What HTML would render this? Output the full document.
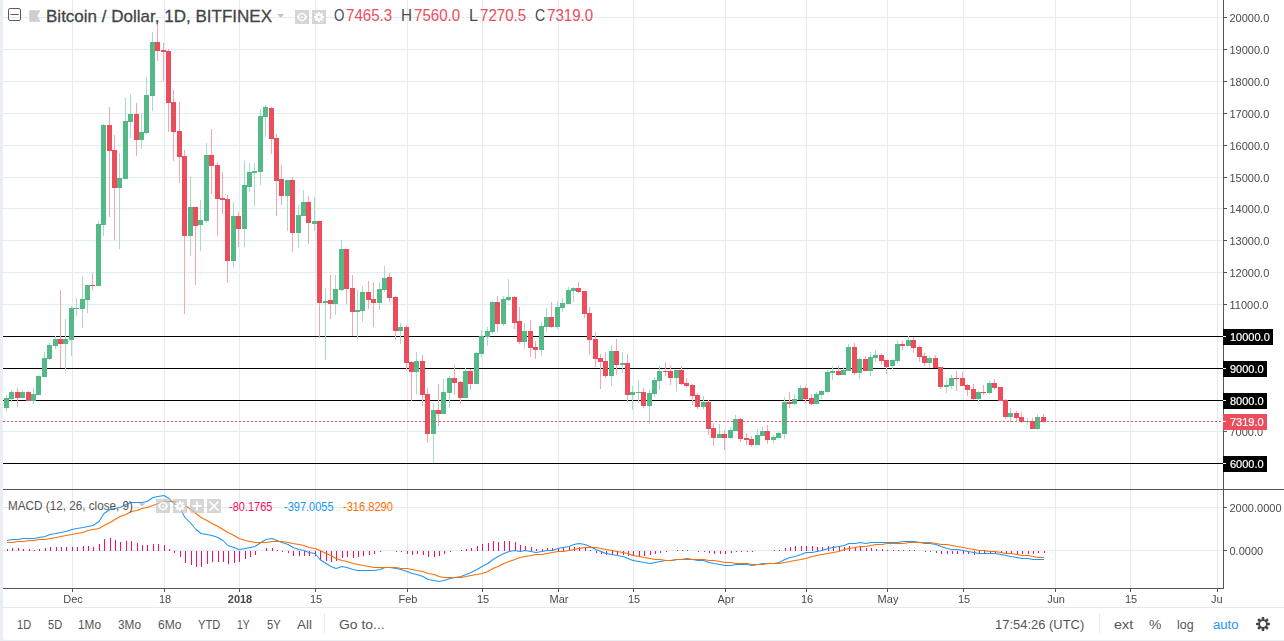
<!DOCTYPE html><html><head><meta charset="utf-8"><title>chart</title><style>
html,body{margin:0;padding:0}
body{width:1284px;height:641px;overflow:hidden;background:#e9eef2;position:relative;font-family:"Liberation Sans",sans-serif}
#chart{position:absolute;left:3px;top:0;width:1281px;height:640px;background:#fff;border-radius:0 0 0 3px}
.f{position:absolute;white-space:nowrap;line-height:1;transform-origin:0 0}
.pl,.bx,.dl{will-change:transform}
.pl{position:absolute;left:1224px;font-size:11px;color:#4a4a4a;line-height:1;padding-left:5.5px}
.pl:before{content:"";position:absolute;left:0;top:4px;width:3px;height:1px;background:#555}
.bx{position:absolute;left:1223px;height:16px;color:#fff;-webkit-text-stroke:0.2px #fff;font-size:11px;line-height:16px;padding-left:7px;box-sizing:border-box}
.bx:before{content:"";position:absolute;left:0;top:7px;width:3px;height:1px;background:#fff}
.dl{position:absolute;top:594px;font-size:11px;color:#4a4a4a;line-height:1;transform:translateX(-50%);white-space:nowrap}
.ib{position:absolute;width:14px;height:14px;background:rgba(0,0,0,0.15)}
</style></head><body>
<div id="chart"></div>
<svg width="1284" height="641" viewBox="0 0 1284 641" style="position:absolute;left:0;top:0" shape-rendering="crispEdges">
<rect x="3" y="17" width="1220" height="1" fill="#e1ecf2"/>
<rect x="3" y="49" width="1220" height="1" fill="#e1ecf2"/>
<rect x="3" y="81" width="1220" height="1" fill="#e1ecf2"/>
<rect x="3" y="113" width="1220" height="1" fill="#e1ecf2"/>
<rect x="3" y="145" width="1220" height="1" fill="#e1ecf2"/>
<rect x="3" y="177" width="1220" height="1" fill="#e1ecf2"/>
<rect x="3" y="208" width="1220" height="1" fill="#e1ecf2"/>
<rect x="3" y="240" width="1220" height="1" fill="#e1ecf2"/>
<rect x="3" y="272" width="1220" height="1" fill="#e1ecf2"/>
<rect x="3" y="304" width="1220" height="1" fill="#e1ecf2"/>
<rect x="3" y="336" width="1220" height="1" fill="#e1ecf2"/>
<rect x="3" y="368" width="1220" height="1" fill="#e1ecf2"/>
<rect x="3" y="400" width="1220" height="1" fill="#e1ecf2"/>
<rect x="3" y="431" width="1220" height="1" fill="#e1ecf2"/>
<rect x="3" y="463" width="1220" height="1" fill="#e1ecf2"/>
<rect x="3" y="507" width="1220" height="1" fill="#e1ecf2"/>
<rect x="3" y="550" width="1220" height="1" fill="#e1ecf2"/>
<rect x="72" y="0" width="1" height="588" fill="#e1ecf2"/>
<rect x="72" y="588" width="1" height="4" fill="#555"/>
<rect x="164" y="0" width="1" height="588" fill="#e1ecf2"/>
<rect x="164" y="588" width="1" height="4" fill="#555"/>
<rect x="239" y="0" width="1" height="588" fill="#e1ecf2"/>
<rect x="239" y="588" width="1" height="4" fill="#555"/>
<rect x="315" y="0" width="1" height="588" fill="#e1ecf2"/>
<rect x="315" y="588" width="1" height="4" fill="#555"/>
<rect x="407" y="0" width="1" height="588" fill="#e1ecf2"/>
<rect x="407" y="588" width="1" height="4" fill="#555"/>
<rect x="482" y="0" width="1" height="588" fill="#e1ecf2"/>
<rect x="482" y="588" width="1" height="4" fill="#555"/>
<rect x="558" y="0" width="1" height="588" fill="#e1ecf2"/>
<rect x="558" y="588" width="1" height="4" fill="#555"/>
<rect x="633" y="0" width="1" height="588" fill="#e1ecf2"/>
<rect x="633" y="588" width="1" height="4" fill="#555"/>
<rect x="725" y="0" width="1" height="588" fill="#e1ecf2"/>
<rect x="725" y="588" width="1" height="4" fill="#555"/>
<rect x="806" y="0" width="1" height="588" fill="#e1ecf2"/>
<rect x="806" y="588" width="1" height="4" fill="#555"/>
<rect x="887" y="0" width="1" height="588" fill="#e1ecf2"/>
<rect x="887" y="588" width="1" height="4" fill="#555"/>
<rect x="963" y="0" width="1" height="588" fill="#e1ecf2"/>
<rect x="963" y="588" width="1" height="4" fill="#555"/>
<rect x="1055" y="0" width="1" height="588" fill="#e1ecf2"/>
<rect x="1055" y="588" width="1" height="4" fill="#555"/>
<rect x="1130" y="0" width="1" height="588" fill="#e1ecf2"/>
<rect x="1130" y="588" width="1" height="4" fill="#555"/>
<rect x="1217" y="0" width="1" height="588" fill="#e1ecf2"/>
<rect x="1217" y="588" width="1" height="4" fill="#555"/>
<rect x="3" y="336" width="1220" height="1" fill="#000"/>
<rect x="3" y="368" width="1220" height="1" fill="#000"/>
<rect x="3" y="400" width="1220" height="1" fill="#000"/>
<rect x="3" y="463" width="1220" height="1" fill="#000"/>
<rect x="6" y="395" width="1" height="3" fill="#a9dcc3"/>
<rect x="6" y="408" width="1" height="3" fill="#a9dcc3"/>
<rect x="4" y="398" width="5" height="10" fill="#53b987"/>
<rect x="11" y="390" width="1" height="2" fill="#a9dcc3"/>
<rect x="11" y="399" width="1" height="3" fill="#a9dcc3"/>
<rect x="9" y="392" width="5" height="7" fill="#53b987"/>
<rect x="17" y="388" width="1" height="4" fill="#f5a6ae"/>
<rect x="17" y="398" width="1" height="9" fill="#f5a6ae"/>
<rect x="15" y="392" width="5" height="6" fill="#eb4d5c"/>
<rect x="22" y="390" width="1" height="2" fill="#a9dcc3"/>
<rect x="20" y="392" width="5" height="6" fill="#53b987"/>
<rect x="28" y="391" width="1" height="1" fill="#f5a6ae"/>
<rect x="26" y="392" width="5" height="9" fill="#eb4d5c"/>
<rect x="33" y="388" width="1" height="6" fill="#a9dcc3"/>
<rect x="33" y="401" width="1" height="3" fill="#a9dcc3"/>
<rect x="31" y="394" width="5" height="7" fill="#53b987"/>
<rect x="38" y="375" width="1" height="1" fill="#a9dcc3"/>
<rect x="36" y="376" width="5" height="19" fill="#53b987"/>
<rect x="44" y="352" width="1" height="6" fill="#a9dcc3"/>
<rect x="42" y="358" width="5" height="19" fill="#53b987"/>
<rect x="49" y="343" width="1" height="2" fill="#a9dcc3"/>
<rect x="49" y="359" width="1" height="1" fill="#a9dcc3"/>
<rect x="47" y="345" width="5" height="14" fill="#53b987"/>
<rect x="55" y="336" width="1" height="3" fill="#a9dcc3"/>
<rect x="55" y="346" width="1" height="3" fill="#a9dcc3"/>
<rect x="53" y="339" width="5" height="7" fill="#53b987"/>
<rect x="60" y="290" width="1" height="49" fill="#f5a6ae"/>
<rect x="60" y="344" width="1" height="24" fill="#f5a6ae"/>
<rect x="58" y="339" width="5" height="5" fill="#eb4d5c"/>
<rect x="65" y="319" width="1" height="20" fill="#a9dcc3"/>
<rect x="65" y="344" width="1" height="29" fill="#a9dcc3"/>
<rect x="63" y="339" width="5" height="5" fill="#53b987"/>
<rect x="71" y="306" width="1" height="2" fill="#a9dcc3"/>
<rect x="71" y="340" width="1" height="16" fill="#a9dcc3"/>
<rect x="69" y="308" width="5" height="32" fill="#53b987"/>
<rect x="76" y="298" width="1" height="10" fill="#a9dcc3"/>
<rect x="76" y="309" width="1" height="7" fill="#a9dcc3"/>
<rect x="74" y="308" width="5" height="1" fill="#53b987"/>
<rect x="82" y="276" width="1" height="23" fill="#a9dcc3"/>
<rect x="82" y="309" width="1" height="19" fill="#a9dcc3"/>
<rect x="80" y="299" width="5" height="10" fill="#53b987"/>
<rect x="87" y="300" width="1" height="13" fill="#a9dcc3"/>
<rect x="85" y="285" width="5" height="15" fill="#53b987"/>
<rect x="92" y="273" width="1" height="12" fill="#f5a6ae"/>
<rect x="92" y="286" width="1" height="5" fill="#f5a6ae"/>
<rect x="90" y="285" width="5" height="1" fill="#eb4d5c"/>
<rect x="98" y="221" width="1" height="3" fill="#a9dcc3"/>
<rect x="96" y="224" width="5" height="62" fill="#53b987"/>
<rect x="103" y="124" width="1" height="1" fill="#a9dcc3"/>
<rect x="103" y="225" width="1" height="11" fill="#a9dcc3"/>
<rect x="101" y="125" width="5" height="100" fill="#53b987"/>
<rect x="109" y="107" width="1" height="18" fill="#f5a6ae"/>
<rect x="109" y="151" width="1" height="66" fill="#f5a6ae"/>
<rect x="107" y="125" width="5" height="26" fill="#eb4d5c"/>
<rect x="114" y="135" width="1" height="15" fill="#f5a6ae"/>
<rect x="114" y="188" width="1" height="52" fill="#f5a6ae"/>
<rect x="112" y="150" width="5" height="38" fill="#eb4d5c"/>
<rect x="119" y="153" width="1" height="25" fill="#a9dcc3"/>
<rect x="119" y="188" width="1" height="61" fill="#a9dcc3"/>
<rect x="117" y="178" width="5" height="10" fill="#53b987"/>
<rect x="125" y="98" width="1" height="23" fill="#a9dcc3"/>
<rect x="123" y="121" width="5" height="58" fill="#53b987"/>
<rect x="130" y="94" width="1" height="20" fill="#a9dcc3"/>
<rect x="130" y="122" width="1" height="16" fill="#a9dcc3"/>
<rect x="128" y="114" width="5" height="8" fill="#53b987"/>
<rect x="136" y="103" width="1" height="11" fill="#f5a6ae"/>
<rect x="136" y="140" width="1" height="16" fill="#f5a6ae"/>
<rect x="134" y="114" width="5" height="26" fill="#eb4d5c"/>
<rect x="141" y="113" width="1" height="19" fill="#a9dcc3"/>
<rect x="141" y="140" width="1" height="9" fill="#a9dcc3"/>
<rect x="139" y="132" width="5" height="8" fill="#53b987"/>
<rect x="146" y="77" width="1" height="18" fill="#a9dcc3"/>
<rect x="146" y="133" width="1" height="1" fill="#a9dcc3"/>
<rect x="144" y="95" width="5" height="38" fill="#53b987"/>
<rect x="152" y="32" width="1" height="10" fill="#a9dcc3"/>
<rect x="152" y="96" width="1" height="15" fill="#a9dcc3"/>
<rect x="150" y="42" width="5" height="54" fill="#53b987"/>
<rect x="157" y="21" width="1" height="21" fill="#f5a6ae"/>
<rect x="157" y="51" width="1" height="10" fill="#f5a6ae"/>
<rect x="155" y="42" width="5" height="9" fill="#eb4d5c"/>
<rect x="163" y="43" width="1" height="7" fill="#f5a6ae"/>
<rect x="163" y="52" width="1" height="29" fill="#f5a6ae"/>
<rect x="161" y="50" width="5" height="2" fill="#eb4d5c"/>
<rect x="168" y="49" width="1" height="2" fill="#f5a6ae"/>
<rect x="168" y="103" width="1" height="29" fill="#f5a6ae"/>
<rect x="166" y="51" width="5" height="52" fill="#eb4d5c"/>
<rect x="173" y="90" width="1" height="12" fill="#f5a6ae"/>
<rect x="173" y="132" width="1" height="29" fill="#f5a6ae"/>
<rect x="171" y="102" width="5" height="30" fill="#eb4d5c"/>
<rect x="179" y="102" width="1" height="29" fill="#f5a6ae"/>
<rect x="179" y="157" width="1" height="26" fill="#f5a6ae"/>
<rect x="177" y="131" width="5" height="26" fill="#eb4d5c"/>
<rect x="184" y="150" width="1" height="6" fill="#f5a6ae"/>
<rect x="184" y="236" width="1" height="78" fill="#f5a6ae"/>
<rect x="182" y="156" width="5" height="80" fill="#eb4d5c"/>
<rect x="190" y="177" width="1" height="30" fill="#a9dcc3"/>
<rect x="190" y="236" width="1" height="20" fill="#a9dcc3"/>
<rect x="188" y="207" width="5" height="29" fill="#53b987"/>
<rect x="195" y="226" width="1" height="59" fill="#f5a6ae"/>
<rect x="193" y="207" width="5" height="19" fill="#eb4d5c"/>
<rect x="200" y="200" width="1" height="20" fill="#a9dcc3"/>
<rect x="200" y="225" width="1" height="26" fill="#a9dcc3"/>
<rect x="198" y="220" width="5" height="5" fill="#53b987"/>
<rect x="206" y="143" width="1" height="12" fill="#a9dcc3"/>
<rect x="206" y="221" width="1" height="2" fill="#a9dcc3"/>
<rect x="204" y="155" width="5" height="66" fill="#53b987"/>
<rect x="211" y="129" width="1" height="26" fill="#f5a6ae"/>
<rect x="211" y="166" width="1" height="28" fill="#f5a6ae"/>
<rect x="209" y="155" width="5" height="11" fill="#eb4d5c"/>
<rect x="217" y="162" width="1" height="3" fill="#f5a6ae"/>
<rect x="217" y="199" width="1" height="37" fill="#f5a6ae"/>
<rect x="215" y="165" width="5" height="34" fill="#eb4d5c"/>
<rect x="222" y="172" width="1" height="26" fill="#f5a6ae"/>
<rect x="222" y="200" width="1" height="14" fill="#f5a6ae"/>
<rect x="220" y="198" width="5" height="2" fill="#eb4d5c"/>
<rect x="227" y="195" width="1" height="4" fill="#f5a6ae"/>
<rect x="227" y="261" width="1" height="22" fill="#f5a6ae"/>
<rect x="225" y="199" width="5" height="62" fill="#eb4d5c"/>
<rect x="233" y="202" width="1" height="14" fill="#a9dcc3"/>
<rect x="233" y="261" width="1" height="6" fill="#a9dcc3"/>
<rect x="231" y="216" width="5" height="45" fill="#53b987"/>
<rect x="238" y="212" width="1" height="4" fill="#f5a6ae"/>
<rect x="238" y="229" width="1" height="18" fill="#f5a6ae"/>
<rect x="236" y="216" width="5" height="13" fill="#eb4d5c"/>
<rect x="244" y="161" width="1" height="24" fill="#a9dcc3"/>
<rect x="244" y="229" width="1" height="18" fill="#a9dcc3"/>
<rect x="242" y="185" width="5" height="44" fill="#53b987"/>
<rect x="249" y="163" width="1" height="9" fill="#a9dcc3"/>
<rect x="249" y="187" width="1" height="5" fill="#a9dcc3"/>
<rect x="247" y="172" width="5" height="15" fill="#53b987"/>
<rect x="254" y="163" width="1" height="8" fill="#a9dcc3"/>
<rect x="254" y="173" width="1" height="33" fill="#a9dcc3"/>
<rect x="252" y="171" width="5" height="2" fill="#53b987"/>
<rect x="260" y="109" width="1" height="7" fill="#a9dcc3"/>
<rect x="260" y="172" width="1" height="13" fill="#a9dcc3"/>
<rect x="258" y="116" width="5" height="56" fill="#53b987"/>
<rect x="265" y="105" width="1" height="2" fill="#a9dcc3"/>
<rect x="265" y="117" width="1" height="20" fill="#a9dcc3"/>
<rect x="263" y="107" width="5" height="10" fill="#53b987"/>
<rect x="271" y="107" width="1" height="1" fill="#f5a6ae"/>
<rect x="271" y="139" width="1" height="15" fill="#f5a6ae"/>
<rect x="269" y="108" width="5" height="31" fill="#eb4d5c"/>
<rect x="276" y="134" width="1" height="4" fill="#f5a6ae"/>
<rect x="276" y="181" width="1" height="35" fill="#f5a6ae"/>
<rect x="274" y="138" width="5" height="43" fill="#eb4d5c"/>
<rect x="281" y="165" width="1" height="14" fill="#f5a6ae"/>
<rect x="281" y="196" width="1" height="9" fill="#f5a6ae"/>
<rect x="279" y="179" width="5" height="17" fill="#eb4d5c"/>
<rect x="287" y="196" width="1" height="35" fill="#a9dcc3"/>
<rect x="285" y="180" width="5" height="16" fill="#53b987"/>
<rect x="292" y="177" width="1" height="3" fill="#f5a6ae"/>
<rect x="292" y="233" width="1" height="19" fill="#f5a6ae"/>
<rect x="290" y="180" width="5" height="53" fill="#eb4d5c"/>
<rect x="298" y="205" width="1" height="10" fill="#a9dcc3"/>
<rect x="298" y="233" width="1" height="15" fill="#a9dcc3"/>
<rect x="296" y="215" width="5" height="18" fill="#53b987"/>
<rect x="303" y="190" width="1" height="12" fill="#a9dcc3"/>
<rect x="301" y="202" width="5" height="14" fill="#53b987"/>
<rect x="308" y="196" width="1" height="6" fill="#f5a6ae"/>
<rect x="308" y="223" width="1" height="21" fill="#f5a6ae"/>
<rect x="306" y="202" width="5" height="21" fill="#eb4d5c"/>
<rect x="314" y="197" width="1" height="24" fill="#a9dcc3"/>
<rect x="314" y="224" width="1" height="7" fill="#a9dcc3"/>
<rect x="312" y="221" width="5" height="3" fill="#53b987"/>
<rect x="319" y="303" width="1" height="35" fill="#f5a6ae"/>
<rect x="317" y="221" width="5" height="82" fill="#eb4d5c"/>
<rect x="325" y="288" width="1" height="13" fill="#a9dcc3"/>
<rect x="325" y="303" width="1" height="57" fill="#a9dcc3"/>
<rect x="323" y="301" width="5" height="2" fill="#53b987"/>
<rect x="330" y="275" width="1" height="25" fill="#f5a6ae"/>
<rect x="330" y="304" width="1" height="15" fill="#f5a6ae"/>
<rect x="328" y="300" width="5" height="4" fill="#eb4d5c"/>
<rect x="335" y="275" width="1" height="14" fill="#a9dcc3"/>
<rect x="335" y="304" width="1" height="11" fill="#a9dcc3"/>
<rect x="333" y="289" width="5" height="15" fill="#53b987"/>
<rect x="341" y="240" width="1" height="9" fill="#a9dcc3"/>
<rect x="341" y="290" width="1" height="1" fill="#a9dcc3"/>
<rect x="339" y="249" width="5" height="41" fill="#53b987"/>
<rect x="346" y="289" width="1" height="15" fill="#f5a6ae"/>
<rect x="344" y="249" width="5" height="40" fill="#eb4d5c"/>
<rect x="352" y="275" width="1" height="13" fill="#f5a6ae"/>
<rect x="352" y="312" width="1" height="24" fill="#f5a6ae"/>
<rect x="350" y="288" width="5" height="24" fill="#eb4d5c"/>
<rect x="357" y="290" width="1" height="20" fill="#a9dcc3"/>
<rect x="357" y="312" width="1" height="27" fill="#a9dcc3"/>
<rect x="355" y="310" width="5" height="2" fill="#53b987"/>
<rect x="362" y="286" width="1" height="6" fill="#a9dcc3"/>
<rect x="362" y="311" width="1" height="11" fill="#a9dcc3"/>
<rect x="360" y="292" width="5" height="19" fill="#53b987"/>
<rect x="368" y="281" width="1" height="11" fill="#f5a6ae"/>
<rect x="368" y="300" width="1" height="9" fill="#f5a6ae"/>
<rect x="366" y="292" width="5" height="8" fill="#eb4d5c"/>
<rect x="373" y="282" width="1" height="17" fill="#f5a6ae"/>
<rect x="373" y="303" width="1" height="24" fill="#f5a6ae"/>
<rect x="371" y="299" width="5" height="4" fill="#eb4d5c"/>
<rect x="379" y="282" width="1" height="7" fill="#a9dcc3"/>
<rect x="379" y="303" width="1" height="7" fill="#a9dcc3"/>
<rect x="377" y="289" width="5" height="14" fill="#53b987"/>
<rect x="384" y="266" width="1" height="12" fill="#a9dcc3"/>
<rect x="384" y="290" width="1" height="2" fill="#a9dcc3"/>
<rect x="382" y="278" width="5" height="12" fill="#53b987"/>
<rect x="389" y="273" width="1" height="4" fill="#f5a6ae"/>
<rect x="389" y="298" width="1" height="4" fill="#f5a6ae"/>
<rect x="387" y="277" width="5" height="21" fill="#eb4d5c"/>
<rect x="395" y="296" width="1" height="1" fill="#f5a6ae"/>
<rect x="395" y="331" width="1" height="9" fill="#f5a6ae"/>
<rect x="393" y="297" width="5" height="34" fill="#eb4d5c"/>
<rect x="400" y="323" width="1" height="4" fill="#a9dcc3"/>
<rect x="400" y="331" width="1" height="13" fill="#a9dcc3"/>
<rect x="398" y="327" width="5" height="4" fill="#53b987"/>
<rect x="406" y="325" width="1" height="2" fill="#f5a6ae"/>
<rect x="406" y="363" width="1" height="7" fill="#f5a6ae"/>
<rect x="404" y="327" width="5" height="36" fill="#eb4d5c"/>
<rect x="411" y="361" width="1" height="1" fill="#f5a6ae"/>
<rect x="411" y="372" width="1" height="29" fill="#f5a6ae"/>
<rect x="409" y="362" width="5" height="10" fill="#eb4d5c"/>
<rect x="416" y="352" width="1" height="9" fill="#a9dcc3"/>
<rect x="416" y="372" width="1" height="22" fill="#a9dcc3"/>
<rect x="414" y="361" width="5" height="11" fill="#53b987"/>
<rect x="422" y="355" width="1" height="6" fill="#f5a6ae"/>
<rect x="422" y="395" width="1" height="11" fill="#f5a6ae"/>
<rect x="420" y="361" width="5" height="34" fill="#eb4d5c"/>
<rect x="427" y="388" width="1" height="6" fill="#f5a6ae"/>
<rect x="427" y="434" width="1" height="9" fill="#f5a6ae"/>
<rect x="425" y="394" width="5" height="40" fill="#eb4d5c"/>
<rect x="433" y="403" width="1" height="7" fill="#a9dcc3"/>
<rect x="433" y="434" width="1" height="29" fill="#a9dcc3"/>
<rect x="431" y="410" width="5" height="24" fill="#53b987"/>
<rect x="438" y="384" width="1" height="26" fill="#f5a6ae"/>
<rect x="438" y="414" width="1" height="12" fill="#f5a6ae"/>
<rect x="436" y="410" width="5" height="4" fill="#eb4d5c"/>
<rect x="443" y="379" width="1" height="13" fill="#a9dcc3"/>
<rect x="441" y="392" width="5" height="22" fill="#53b987"/>
<rect x="449" y="376" width="1" height="2" fill="#a9dcc3"/>
<rect x="449" y="393" width="1" height="15" fill="#a9dcc3"/>
<rect x="447" y="378" width="5" height="15" fill="#53b987"/>
<rect x="454" y="365" width="1" height="13" fill="#f5a6ae"/>
<rect x="454" y="383" width="1" height="12" fill="#f5a6ae"/>
<rect x="452" y="378" width="5" height="5" fill="#eb4d5c"/>
<rect x="460" y="381" width="1" height="1" fill="#f5a6ae"/>
<rect x="460" y="398" width="1" height="6" fill="#f5a6ae"/>
<rect x="458" y="382" width="5" height="16" fill="#eb4d5c"/>
<rect x="465" y="368" width="1" height="3" fill="#a9dcc3"/>
<rect x="463" y="371" width="5" height="27" fill="#53b987"/>
<rect x="470" y="369" width="1" height="2" fill="#f5a6ae"/>
<rect x="470" y="384" width="1" height="6" fill="#f5a6ae"/>
<rect x="468" y="371" width="5" height="13" fill="#eb4d5c"/>
<rect x="476" y="352" width="1" height="1" fill="#a9dcc3"/>
<rect x="474" y="353" width="5" height="31" fill="#53b987"/>
<rect x="481" y="330" width="1" height="6" fill="#a9dcc3"/>
<rect x="481" y="354" width="1" height="3" fill="#a9dcc3"/>
<rect x="479" y="336" width="5" height="18" fill="#53b987"/>
<rect x="487" y="327" width="1" height="4" fill="#a9dcc3"/>
<rect x="487" y="337" width="1" height="9" fill="#a9dcc3"/>
<rect x="485" y="331" width="5" height="6" fill="#53b987"/>
<rect x="492" y="301" width="1" height="1" fill="#a9dcc3"/>
<rect x="492" y="332" width="1" height="2" fill="#a9dcc3"/>
<rect x="490" y="302" width="5" height="30" fill="#53b987"/>
<rect x="497" y="296" width="1" height="6" fill="#f5a6ae"/>
<rect x="497" y="324" width="1" height="8" fill="#f5a6ae"/>
<rect x="495" y="302" width="5" height="22" fill="#eb4d5c"/>
<rect x="503" y="296" width="1" height="3" fill="#a9dcc3"/>
<rect x="503" y="324" width="1" height="2" fill="#a9dcc3"/>
<rect x="501" y="299" width="5" height="25" fill="#53b987"/>
<rect x="508" y="279" width="1" height="18" fill="#a9dcc3"/>
<rect x="508" y="300" width="1" height="1" fill="#a9dcc3"/>
<rect x="506" y="297" width="5" height="3" fill="#53b987"/>
<rect x="514" y="296" width="1" height="1" fill="#f5a6ae"/>
<rect x="514" y="323" width="1" height="6" fill="#f5a6ae"/>
<rect x="512" y="297" width="5" height="26" fill="#eb4d5c"/>
<rect x="519" y="307" width="1" height="14" fill="#f5a6ae"/>
<rect x="519" y="342" width="1" height="2" fill="#f5a6ae"/>
<rect x="517" y="321" width="5" height="21" fill="#eb4d5c"/>
<rect x="524" y="323" width="1" height="8" fill="#a9dcc3"/>
<rect x="524" y="342" width="1" height="7" fill="#a9dcc3"/>
<rect x="522" y="331" width="5" height="11" fill="#53b987"/>
<rect x="530" y="320" width="1" height="11" fill="#f5a6ae"/>
<rect x="530" y="348" width="1" height="9" fill="#f5a6ae"/>
<rect x="528" y="331" width="5" height="17" fill="#eb4d5c"/>
<rect x="535" y="341" width="1" height="6" fill="#f5a6ae"/>
<rect x="535" y="350" width="1" height="9" fill="#f5a6ae"/>
<rect x="533" y="347" width="5" height="3" fill="#eb4d5c"/>
<rect x="541" y="322" width="1" height="4" fill="#a9dcc3"/>
<rect x="541" y="350" width="1" height="6" fill="#a9dcc3"/>
<rect x="539" y="326" width="5" height="24" fill="#53b987"/>
<rect x="546" y="308" width="1" height="9" fill="#a9dcc3"/>
<rect x="546" y="327" width="1" height="5" fill="#a9dcc3"/>
<rect x="544" y="317" width="5" height="10" fill="#53b987"/>
<rect x="551" y="302" width="1" height="15" fill="#f5a6ae"/>
<rect x="551" y="327" width="1" height="1" fill="#f5a6ae"/>
<rect x="549" y="317" width="5" height="10" fill="#eb4d5c"/>
<rect x="557" y="301" width="1" height="6" fill="#a9dcc3"/>
<rect x="557" y="327" width="1" height="2" fill="#a9dcc3"/>
<rect x="555" y="307" width="5" height="20" fill="#53b987"/>
<rect x="562" y="298" width="1" height="5" fill="#a9dcc3"/>
<rect x="562" y="308" width="1" height="4" fill="#a9dcc3"/>
<rect x="560" y="303" width="5" height="5" fill="#53b987"/>
<rect x="568" y="287" width="1" height="3" fill="#a9dcc3"/>
<rect x="566" y="290" width="5" height="14" fill="#53b987"/>
<rect x="573" y="287" width="1" height="1" fill="#a9dcc3"/>
<rect x="573" y="291" width="1" height="11" fill="#a9dcc3"/>
<rect x="571" y="288" width="5" height="3" fill="#53b987"/>
<rect x="578" y="282" width="1" height="6" fill="#f5a6ae"/>
<rect x="578" y="292" width="1" height="1" fill="#f5a6ae"/>
<rect x="576" y="288" width="5" height="4" fill="#eb4d5c"/>
<rect x="584" y="314" width="1" height="4" fill="#f5a6ae"/>
<rect x="582" y="291" width="5" height="23" fill="#eb4d5c"/>
<rect x="589" y="307" width="1" height="6" fill="#f5a6ae"/>
<rect x="589" y="340" width="1" height="15" fill="#f5a6ae"/>
<rect x="587" y="313" width="5" height="27" fill="#eb4d5c"/>
<rect x="595" y="332" width="1" height="7" fill="#f5a6ae"/>
<rect x="595" y="359" width="1" height="8" fill="#f5a6ae"/>
<rect x="593" y="339" width="5" height="20" fill="#eb4d5c"/>
<rect x="600" y="354" width="1" height="4" fill="#f5a6ae"/>
<rect x="600" y="362" width="1" height="27" fill="#f5a6ae"/>
<rect x="598" y="358" width="5" height="4" fill="#eb4d5c"/>
<rect x="605" y="352" width="1" height="9" fill="#f5a6ae"/>
<rect x="605" y="376" width="1" height="2" fill="#f5a6ae"/>
<rect x="603" y="361" width="5" height="15" fill="#eb4d5c"/>
<rect x="611" y="345" width="1" height="6" fill="#a9dcc3"/>
<rect x="611" y="376" width="1" height="10" fill="#a9dcc3"/>
<rect x="609" y="351" width="5" height="25" fill="#53b987"/>
<rect x="616" y="339" width="1" height="12" fill="#f5a6ae"/>
<rect x="616" y="365" width="1" height="10" fill="#f5a6ae"/>
<rect x="614" y="351" width="5" height="14" fill="#eb4d5c"/>
<rect x="622" y="352" width="1" height="11" fill="#a9dcc3"/>
<rect x="622" y="365" width="1" height="8" fill="#a9dcc3"/>
<rect x="620" y="363" width="5" height="2" fill="#53b987"/>
<rect x="627" y="354" width="1" height="9" fill="#f5a6ae"/>
<rect x="627" y="395" width="1" height="7" fill="#f5a6ae"/>
<rect x="625" y="363" width="5" height="32" fill="#eb4d5c"/>
<rect x="632" y="386" width="1" height="6" fill="#a9dcc3"/>
<rect x="632" y="395" width="1" height="15" fill="#a9dcc3"/>
<rect x="630" y="392" width="5" height="3" fill="#53b987"/>
<rect x="638" y="380" width="1" height="12" fill="#a9dcc3"/>
<rect x="638" y="393" width="1" height="10" fill="#a9dcc3"/>
<rect x="636" y="392" width="5" height="1" fill="#53b987"/>
<rect x="643" y="388" width="1" height="4" fill="#f5a6ae"/>
<rect x="643" y="406" width="1" height="2" fill="#f5a6ae"/>
<rect x="641" y="392" width="5" height="14" fill="#eb4d5c"/>
<rect x="649" y="390" width="1" height="3" fill="#a9dcc3"/>
<rect x="649" y="406" width="1" height="18" fill="#a9dcc3"/>
<rect x="647" y="393" width="5" height="13" fill="#53b987"/>
<rect x="654" y="377" width="1" height="3" fill="#a9dcc3"/>
<rect x="654" y="394" width="1" height="3" fill="#a9dcc3"/>
<rect x="652" y="380" width="5" height="14" fill="#53b987"/>
<rect x="659" y="366" width="1" height="5" fill="#a9dcc3"/>
<rect x="659" y="381" width="1" height="9" fill="#a9dcc3"/>
<rect x="657" y="371" width="5" height="10" fill="#53b987"/>
<rect x="665" y="362" width="1" height="9" fill="#f5a6ae"/>
<rect x="665" y="372" width="1" height="4" fill="#f5a6ae"/>
<rect x="663" y="371" width="5" height="1" fill="#eb4d5c"/>
<rect x="670" y="365" width="1" height="6" fill="#f5a6ae"/>
<rect x="670" y="378" width="1" height="7" fill="#f5a6ae"/>
<rect x="668" y="371" width="5" height="7" fill="#eb4d5c"/>
<rect x="676" y="378" width="1" height="13" fill="#a9dcc3"/>
<rect x="674" y="370" width="5" height="8" fill="#53b987"/>
<rect x="681" y="366" width="1" height="4" fill="#f5a6ae"/>
<rect x="681" y="384" width="1" height="1" fill="#f5a6ae"/>
<rect x="679" y="370" width="5" height="14" fill="#eb4d5c"/>
<rect x="686" y="378" width="1" height="5" fill="#f5a6ae"/>
<rect x="686" y="386" width="1" height="2" fill="#f5a6ae"/>
<rect x="684" y="383" width="5" height="3" fill="#eb4d5c"/>
<rect x="692" y="384" width="1" height="1" fill="#f5a6ae"/>
<rect x="692" y="396" width="1" height="9" fill="#f5a6ae"/>
<rect x="690" y="385" width="5" height="11" fill="#eb4d5c"/>
<rect x="697" y="393" width="1" height="2" fill="#f5a6ae"/>
<rect x="697" y="407" width="1" height="2" fill="#f5a6ae"/>
<rect x="695" y="395" width="5" height="12" fill="#eb4d5c"/>
<rect x="703" y="396" width="1" height="6" fill="#a9dcc3"/>
<rect x="703" y="407" width="1" height="2" fill="#a9dcc3"/>
<rect x="701" y="402" width="5" height="5" fill="#53b987"/>
<rect x="708" y="400" width="1" height="2" fill="#f5a6ae"/>
<rect x="708" y="429" width="1" height="6" fill="#f5a6ae"/>
<rect x="706" y="402" width="5" height="27" fill="#eb4d5c"/>
<rect x="713" y="423" width="1" height="5" fill="#f5a6ae"/>
<rect x="713" y="438" width="1" height="8" fill="#f5a6ae"/>
<rect x="711" y="428" width="5" height="10" fill="#eb4d5c"/>
<rect x="719" y="424" width="1" height="10" fill="#a9dcc3"/>
<rect x="717" y="434" width="5" height="4" fill="#53b987"/>
<rect x="724" y="430" width="1" height="4" fill="#f5a6ae"/>
<rect x="724" y="438" width="1" height="12" fill="#f5a6ae"/>
<rect x="722" y="434" width="5" height="4" fill="#eb4d5c"/>
<rect x="730" y="427" width="1" height="3" fill="#a9dcc3"/>
<rect x="730" y="438" width="1" height="1" fill="#a9dcc3"/>
<rect x="728" y="430" width="5" height="8" fill="#53b987"/>
<rect x="735" y="415" width="1" height="4" fill="#a9dcc3"/>
<rect x="733" y="419" width="5" height="12" fill="#53b987"/>
<rect x="740" y="418" width="1" height="1" fill="#f5a6ae"/>
<rect x="740" y="439" width="1" height="3" fill="#f5a6ae"/>
<rect x="738" y="419" width="5" height="20" fill="#eb4d5c"/>
<rect x="746" y="433" width="1" height="5" fill="#f5a6ae"/>
<rect x="746" y="440" width="1" height="5" fill="#f5a6ae"/>
<rect x="744" y="438" width="5" height="2" fill="#eb4d5c"/>
<rect x="751" y="436" width="1" height="3" fill="#f5a6ae"/>
<rect x="751" y="445" width="1" height="2" fill="#f5a6ae"/>
<rect x="749" y="439" width="5" height="6" fill="#eb4d5c"/>
<rect x="757" y="429" width="1" height="6" fill="#a9dcc3"/>
<rect x="755" y="435" width="5" height="10" fill="#53b987"/>
<rect x="762" y="427" width="1" height="4" fill="#a9dcc3"/>
<rect x="760" y="431" width="5" height="5" fill="#53b987"/>
<rect x="767" y="425" width="1" height="6" fill="#f5a6ae"/>
<rect x="767" y="440" width="1" height="4" fill="#f5a6ae"/>
<rect x="765" y="431" width="5" height="9" fill="#eb4d5c"/>
<rect x="773" y="435" width="1" height="2" fill="#a9dcc3"/>
<rect x="773" y="440" width="1" height="3" fill="#a9dcc3"/>
<rect x="771" y="437" width="5" height="3" fill="#53b987"/>
<rect x="778" y="431" width="1" height="2" fill="#a9dcc3"/>
<rect x="776" y="433" width="5" height="5" fill="#53b987"/>
<rect x="784" y="397" width="1" height="5" fill="#a9dcc3"/>
<rect x="784" y="434" width="1" height="5" fill="#a9dcc3"/>
<rect x="782" y="402" width="5" height="32" fill="#53b987"/>
<rect x="789" y="392" width="1" height="10" fill="#f5a6ae"/>
<rect x="789" y="404" width="1" height="4" fill="#f5a6ae"/>
<rect x="787" y="402" width="5" height="2" fill="#eb4d5c"/>
<rect x="794" y="394" width="1" height="5" fill="#a9dcc3"/>
<rect x="794" y="404" width="1" height="1" fill="#a9dcc3"/>
<rect x="792" y="399" width="5" height="5" fill="#53b987"/>
<rect x="800" y="385" width="1" height="3" fill="#a9dcc3"/>
<rect x="798" y="388" width="5" height="12" fill="#53b987"/>
<rect x="805" y="386" width="1" height="2" fill="#f5a6ae"/>
<rect x="805" y="399" width="1" height="4" fill="#f5a6ae"/>
<rect x="803" y="388" width="5" height="11" fill="#eb4d5c"/>
<rect x="811" y="394" width="1" height="4" fill="#f5a6ae"/>
<rect x="811" y="404" width="1" height="1" fill="#f5a6ae"/>
<rect x="809" y="398" width="5" height="6" fill="#eb4d5c"/>
<rect x="816" y="392" width="1" height="2" fill="#a9dcc3"/>
<rect x="814" y="394" width="5" height="10" fill="#53b987"/>
<rect x="821" y="390" width="1" height="1" fill="#a9dcc3"/>
<rect x="821" y="395" width="1" height="4" fill="#a9dcc3"/>
<rect x="819" y="391" width="5" height="4" fill="#53b987"/>
<rect x="827" y="370" width="1" height="2" fill="#a9dcc3"/>
<rect x="827" y="392" width="1" height="1" fill="#a9dcc3"/>
<rect x="825" y="372" width="5" height="20" fill="#53b987"/>
<rect x="832" y="366" width="1" height="5" fill="#a9dcc3"/>
<rect x="832" y="373" width="1" height="7" fill="#a9dcc3"/>
<rect x="830" y="371" width="5" height="2" fill="#53b987"/>
<rect x="838" y="366" width="1" height="5" fill="#f5a6ae"/>
<rect x="838" y="375" width="1" height="1" fill="#f5a6ae"/>
<rect x="836" y="371" width="5" height="4" fill="#eb4d5c"/>
<rect x="843" y="367" width="1" height="3" fill="#a9dcc3"/>
<rect x="841" y="370" width="5" height="5" fill="#53b987"/>
<rect x="848" y="344" width="1" height="3" fill="#a9dcc3"/>
<rect x="846" y="347" width="5" height="24" fill="#53b987"/>
<rect x="854" y="343" width="1" height="4" fill="#f5a6ae"/>
<rect x="854" y="373" width="1" height="2" fill="#f5a6ae"/>
<rect x="852" y="347" width="5" height="26" fill="#eb4d5c"/>
<rect x="859" y="358" width="1" height="1" fill="#a9dcc3"/>
<rect x="859" y="373" width="1" height="6" fill="#a9dcc3"/>
<rect x="857" y="359" width="5" height="14" fill="#53b987"/>
<rect x="865" y="356" width="1" height="3" fill="#f5a6ae"/>
<rect x="863" y="359" width="5" height="12" fill="#eb4d5c"/>
<rect x="870" y="352" width="1" height="5" fill="#a9dcc3"/>
<rect x="870" y="371" width="1" height="5" fill="#a9dcc3"/>
<rect x="868" y="357" width="5" height="14" fill="#53b987"/>
<rect x="875" y="350" width="1" height="5" fill="#a9dcc3"/>
<rect x="875" y="358" width="1" height="4" fill="#a9dcc3"/>
<rect x="873" y="355" width="5" height="3" fill="#53b987"/>
<rect x="881" y="353" width="1" height="2" fill="#f5a6ae"/>
<rect x="881" y="361" width="1" height="4" fill="#f5a6ae"/>
<rect x="879" y="355" width="5" height="6" fill="#eb4d5c"/>
<rect x="886" y="367" width="1" height="7" fill="#f5a6ae"/>
<rect x="884" y="360" width="5" height="7" fill="#eb4d5c"/>
<rect x="892" y="359" width="1" height="1" fill="#a9dcc3"/>
<rect x="892" y="366" width="1" height="3" fill="#a9dcc3"/>
<rect x="890" y="360" width="5" height="6" fill="#53b987"/>
<rect x="897" y="340" width="1" height="4" fill="#a9dcc3"/>
<rect x="897" y="361" width="1" height="2" fill="#a9dcc3"/>
<rect x="895" y="344" width="5" height="17" fill="#53b987"/>
<rect x="902" y="341" width="1" height="3" fill="#f5a6ae"/>
<rect x="902" y="346" width="1" height="4" fill="#f5a6ae"/>
<rect x="900" y="344" width="5" height="2" fill="#eb4d5c"/>
<rect x="908" y="336" width="1" height="4" fill="#a9dcc3"/>
<rect x="906" y="340" width="5" height="6" fill="#53b987"/>
<rect x="913" y="337" width="1" height="3" fill="#f5a6ae"/>
<rect x="913" y="348" width="1" height="5" fill="#f5a6ae"/>
<rect x="911" y="340" width="5" height="8" fill="#eb4d5c"/>
<rect x="919" y="346" width="1" height="1" fill="#f5a6ae"/>
<rect x="919" y="357" width="1" height="5" fill="#f5a6ae"/>
<rect x="917" y="347" width="5" height="10" fill="#eb4d5c"/>
<rect x="924" y="353" width="1" height="3" fill="#f5a6ae"/>
<rect x="924" y="363" width="1" height="3" fill="#f5a6ae"/>
<rect x="922" y="356" width="5" height="7" fill="#eb4d5c"/>
<rect x="929" y="356" width="1" height="2" fill="#a9dcc3"/>
<rect x="929" y="363" width="1" height="5" fill="#a9dcc3"/>
<rect x="927" y="358" width="5" height="5" fill="#53b987"/>
<rect x="935" y="355" width="1" height="3" fill="#f5a6ae"/>
<rect x="933" y="358" width="5" height="10" fill="#eb4d5c"/>
<rect x="940" y="387" width="1" height="2" fill="#f5a6ae"/>
<rect x="938" y="367" width="5" height="20" fill="#eb4d5c"/>
<rect x="946" y="379" width="1" height="6" fill="#a9dcc3"/>
<rect x="946" y="387" width="1" height="6" fill="#a9dcc3"/>
<rect x="944" y="385" width="5" height="2" fill="#53b987"/>
<rect x="951" y="375" width="1" height="3" fill="#a9dcc3"/>
<rect x="951" y="386" width="1" height="3" fill="#a9dcc3"/>
<rect x="949" y="378" width="5" height="8" fill="#53b987"/>
<rect x="956" y="371" width="1" height="7" fill="#f5a6ae"/>
<rect x="956" y="379" width="1" height="12" fill="#f5a6ae"/>
<rect x="954" y="378" width="5" height="1" fill="#eb4d5c"/>
<rect x="962" y="372" width="1" height="6" fill="#f5a6ae"/>
<rect x="960" y="378" width="5" height="8" fill="#eb4d5c"/>
<rect x="967" y="384" width="1" height="1" fill="#f5a6ae"/>
<rect x="967" y="390" width="1" height="6" fill="#f5a6ae"/>
<rect x="965" y="385" width="5" height="5" fill="#eb4d5c"/>
<rect x="973" y="384" width="1" height="5" fill="#f5a6ae"/>
<rect x="973" y="399" width="1" height="1" fill="#f5a6ae"/>
<rect x="971" y="389" width="5" height="10" fill="#eb4d5c"/>
<rect x="978" y="391" width="1" height="1" fill="#a9dcc3"/>
<rect x="978" y="399" width="1" height="3" fill="#a9dcc3"/>
<rect x="976" y="392" width="5" height="7" fill="#53b987"/>
<rect x="983" y="385" width="1" height="7" fill="#f5a6ae"/>
<rect x="983" y="393" width="1" height="2" fill="#f5a6ae"/>
<rect x="981" y="392" width="5" height="1" fill="#eb4d5c"/>
<rect x="989" y="381" width="1" height="2" fill="#a9dcc3"/>
<rect x="989" y="393" width="1" height="1" fill="#a9dcc3"/>
<rect x="987" y="383" width="5" height="10" fill="#53b987"/>
<rect x="994" y="379" width="1" height="4" fill="#f5a6ae"/>
<rect x="994" y="388" width="1" height="2" fill="#f5a6ae"/>
<rect x="992" y="383" width="5" height="5" fill="#eb4d5c"/>
<rect x="998" y="387" width="5" height="14" fill="#eb4d5c"/>
<rect x="1005" y="399" width="1" height="1" fill="#f5a6ae"/>
<rect x="1005" y="417" width="1" height="2" fill="#f5a6ae"/>
<rect x="1003" y="400" width="5" height="17" fill="#eb4d5c"/>
<rect x="1010" y="408" width="1" height="5" fill="#a9dcc3"/>
<rect x="1010" y="417" width="1" height="6" fill="#a9dcc3"/>
<rect x="1008" y="413" width="5" height="4" fill="#53b987"/>
<rect x="1016" y="411" width="1" height="2" fill="#f5a6ae"/>
<rect x="1016" y="418" width="1" height="3" fill="#f5a6ae"/>
<rect x="1014" y="413" width="5" height="5" fill="#eb4d5c"/>
<rect x="1021" y="412" width="1" height="5" fill="#f5a6ae"/>
<rect x="1021" y="422" width="1" height="1" fill="#f5a6ae"/>
<rect x="1019" y="417" width="5" height="5" fill="#eb4d5c"/>
<rect x="1027" y="418" width="1" height="3" fill="#a9dcc3"/>
<rect x="1027" y="422" width="1" height="3" fill="#a9dcc3"/>
<rect x="1025" y="421" width="5" height="1" fill="#53b987"/>
<rect x="1032" y="418" width="1" height="3" fill="#f5a6ae"/>
<rect x="1030" y="421" width="5" height="8" fill="#eb4d5c"/>
<rect x="1037" y="414" width="1" height="3" fill="#a9dcc3"/>
<rect x="1037" y="429" width="1" height="1" fill="#a9dcc3"/>
<rect x="1035" y="417" width="5" height="12" fill="#53b987"/>
<rect x="1043" y="414" width="1" height="3" fill="#f5a6ae"/>
<rect x="1043" y="422" width="1" height="1" fill="#f5a6ae"/>
<rect x="1041" y="417" width="5" height="5" fill="#eb4d5c"/>
<line x1="3" y1="421.5" x2="1223" y2="421.5" stroke="#eb4d5c" stroke-width="1" stroke-dasharray="2,2"/>
<rect x="7" y="549" width="1" height="2" fill="#ff0a5f"/>
<rect x="12" y="548" width="1" height="3" fill="#ff0a5f"/>
<rect x="18" y="548" width="1" height="3" fill="#ff0a5f"/>
<rect x="23" y="549" width="1" height="2" fill="#ff0a5f"/>
<rect x="29" y="549" width="1" height="2" fill="#ff0a5f"/>
<rect x="34" y="550" width="1" height="1" fill="#ff0a5f"/>
<rect x="39" y="549" width="1" height="2" fill="#ff0a5f"/>
<rect x="45" y="548" width="1" height="3" fill="#ff0a5f"/>
<rect x="50" y="547" width="1" height="4" fill="#ff0a5f"/>
<rect x="56" y="547" width="1" height="4" fill="#ff0a5f"/>
<rect x="61" y="547" width="1" height="4" fill="#ff0a5f"/>
<rect x="66" y="547" width="1" height="4" fill="#ff0a5f"/>
<rect x="72" y="547" width="1" height="4" fill="#ff0a5f"/>
<rect x="77" y="547" width="1" height="4" fill="#ff0a5f"/>
<rect x="83" y="546" width="1" height="5" fill="#ff0a5f"/>
<rect x="88" y="546" width="1" height="5" fill="#ff0a5f"/>
<rect x="93" y="547" width="1" height="4" fill="#ff0a5f"/>
<rect x="99" y="544" width="1" height="7" fill="#ff0a5f"/>
<rect x="104" y="539" width="1" height="12" fill="#ff0a5f"/>
<rect x="110" y="538" width="1" height="13" fill="#ff0a5f"/>
<rect x="115" y="540" width="1" height="11" fill="#ff0a5f"/>
<rect x="120" y="542" width="1" height="9" fill="#ff0a5f"/>
<rect x="126" y="541" width="1" height="10" fill="#ff0a5f"/>
<rect x="131" y="541" width="1" height="10" fill="#ff0a5f"/>
<rect x="137" y="543" width="1" height="8" fill="#ff0a5f"/>
<rect x="142" y="545" width="1" height="6" fill="#ff0a5f"/>
<rect x="147" y="545" width="1" height="6" fill="#ff0a5f"/>
<rect x="153" y="544" width="1" height="7" fill="#ff0a5f"/>
<rect x="158" y="544" width="1" height="7" fill="#ff0a5f"/>
<rect x="164" y="545" width="1" height="6" fill="#ff0a5f"/>
<rect x="169" y="549" width="1" height="2" fill="#ff0a5f"/>
<rect x="174" y="551" width="1" height="2" fill="#ff0a5f"/>
<rect x="180" y="551" width="1" height="6" fill="#ff0a5f"/>
<rect x="185" y="551" width="1" height="12" fill="#ff0a5f"/>
<rect x="191" y="551" width="1" height="14" fill="#ff0a5f"/>
<rect x="196" y="551" width="1" height="16" fill="#ff0a5f"/>
<rect x="201" y="551" width="1" height="16" fill="#ff0a5f"/>
<rect x="207" y="551" width="1" height="13" fill="#ff0a5f"/>
<rect x="212" y="551" width="1" height="11" fill="#ff0a5f"/>
<rect x="218" y="551" width="1" height="11" fill="#ff0a5f"/>
<rect x="223" y="551" width="1" height="11" fill="#ff0a5f"/>
<rect x="228" y="551" width="1" height="13" fill="#ff0a5f"/>
<rect x="234" y="551" width="1" height="12" fill="#ff0a5f"/>
<rect x="239" y="551" width="1" height="11" fill="#ff0a5f"/>
<rect x="245" y="551" width="1" height="8" fill="#ff0a5f"/>
<rect x="250" y="551" width="1" height="6" fill="#ff0a5f"/>
<rect x="255" y="551" width="1" height="4" fill="#ff0a5f"/>
<rect x="266" y="548" width="1" height="3" fill="#ff0a5f"/>
<rect x="272" y="548" width="1" height="3" fill="#ff0a5f"/>
<rect x="277" y="550" width="1" height="1" fill="#ff0a5f"/>
<rect x="282" y="551" width="1" height="1" fill="#ff0a5f"/>
<rect x="288" y="551" width="1" height="2" fill="#ff0a5f"/>
<rect x="293" y="551" width="1" height="5" fill="#ff0a5f"/>
<rect x="299" y="551" width="1" height="5" fill="#ff0a5f"/>
<rect x="304" y="551" width="1" height="5" fill="#ff0a5f"/>
<rect x="309" y="551" width="1" height="5" fill="#ff0a5f"/>
<rect x="315" y="551" width="1" height="5" fill="#ff0a5f"/>
<rect x="320" y="551" width="1" height="9" fill="#ff0a5f"/>
<rect x="326" y="551" width="1" height="10" fill="#ff0a5f"/>
<rect x="331" y="551" width="1" height="11" fill="#ff0a5f"/>
<rect x="336" y="551" width="1" height="10" fill="#ff0a5f"/>
<rect x="342" y="551" width="1" height="7" fill="#ff0a5f"/>
<rect x="347" y="551" width="1" height="6" fill="#ff0a5f"/>
<rect x="353" y="551" width="1" height="7" fill="#ff0a5f"/>
<rect x="358" y="551" width="1" height="6" fill="#ff0a5f"/>
<rect x="363" y="551" width="1" height="5" fill="#ff0a5f"/>
<rect x="369" y="551" width="1" height="4" fill="#ff0a5f"/>
<rect x="374" y="551" width="1" height="3" fill="#ff0a5f"/>
<rect x="380" y="551" width="1" height="1" fill="#ff0a5f"/>
<rect x="396" y="551" width="1" height="1" fill="#ff0a5f"/>
<rect x="401" y="551" width="1" height="1" fill="#ff0a5f"/>
<rect x="407" y="551" width="1" height="3" fill="#ff0a5f"/>
<rect x="412" y="551" width="1" height="4" fill="#ff0a5f"/>
<rect x="417" y="551" width="1" height="3" fill="#ff0a5f"/>
<rect x="423" y="551" width="1" height="4" fill="#ff0a5f"/>
<rect x="428" y="551" width="1" height="6" fill="#ff0a5f"/>
<rect x="434" y="551" width="1" height="6" fill="#ff0a5f"/>
<rect x="439" y="551" width="1" height="5" fill="#ff0a5f"/>
<rect x="444" y="551" width="1" height="3" fill="#ff0a5f"/>
<rect x="450" y="551" width="1" height="1" fill="#ff0a5f"/>
<rect x="461" y="550" width="1" height="1" fill="#ff0a5f"/>
<rect x="466" y="549" width="1" height="2" fill="#ff0a5f"/>
<rect x="471" y="548" width="1" height="3" fill="#ff0a5f"/>
<rect x="477" y="546" width="1" height="5" fill="#ff0a5f"/>
<rect x="482" y="544" width="1" height="7" fill="#ff0a5f"/>
<rect x="488" y="543" width="1" height="8" fill="#ff0a5f"/>
<rect x="493" y="541" width="1" height="10" fill="#ff0a5f"/>
<rect x="498" y="542" width="1" height="9" fill="#ff0a5f"/>
<rect x="504" y="541" width="1" height="10" fill="#ff0a5f"/>
<rect x="509" y="541" width="1" height="10" fill="#ff0a5f"/>
<rect x="515" y="542" width="1" height="9" fill="#ff0a5f"/>
<rect x="520" y="545" width="1" height="6" fill="#ff0a5f"/>
<rect x="525" y="546" width="1" height="5" fill="#ff0a5f"/>
<rect x="531" y="547" width="1" height="4" fill="#ff0a5f"/>
<rect x="536" y="549" width="1" height="2" fill="#ff0a5f"/>
<rect x="542" y="549" width="1" height="2" fill="#ff0a5f"/>
<rect x="547" y="548" width="1" height="3" fill="#ff0a5f"/>
<rect x="552" y="548" width="1" height="3" fill="#ff0a5f"/>
<rect x="558" y="548" width="1" height="3" fill="#ff0a5f"/>
<rect x="563" y="548" width="1" height="3" fill="#ff0a5f"/>
<rect x="569" y="547" width="1" height="4" fill="#ff0a5f"/>
<rect x="574" y="547" width="1" height="4" fill="#ff0a5f"/>
<rect x="579" y="547" width="1" height="4" fill="#ff0a5f"/>
<rect x="585" y="548" width="1" height="3" fill="#ff0a5f"/>
<rect x="590" y="550" width="1" height="1" fill="#ff0a5f"/>
<rect x="596" y="551" width="1" height="2" fill="#ff0a5f"/>
<rect x="601" y="551" width="1" height="3" fill="#ff0a5f"/>
<rect x="606" y="551" width="1" height="4" fill="#ff0a5f"/>
<rect x="612" y="551" width="1" height="4" fill="#ff0a5f"/>
<rect x="617" y="551" width="1" height="4" fill="#ff0a5f"/>
<rect x="623" y="551" width="1" height="4" fill="#ff0a5f"/>
<rect x="628" y="551" width="1" height="5" fill="#ff0a5f"/>
<rect x="633" y="551" width="1" height="5" fill="#ff0a5f"/>
<rect x="639" y="551" width="1" height="5" fill="#ff0a5f"/>
<rect x="644" y="551" width="1" height="5" fill="#ff0a5f"/>
<rect x="650" y="551" width="1" height="4" fill="#ff0a5f"/>
<rect x="655" y="551" width="1" height="3" fill="#ff0a5f"/>
<rect x="660" y="551" width="1" height="2" fill="#ff0a5f"/>
<rect x="666" y="551" width="1" height="1" fill="#ff0a5f"/>
<rect x="677" y="550" width="1" height="1" fill="#ff0a5f"/>
<rect x="682" y="550" width="1" height="1" fill="#ff0a5f"/>
<rect x="687" y="550" width="1" height="1" fill="#ff0a5f"/>
<rect x="698" y="551" width="1" height="1" fill="#ff0a5f"/>
<rect x="704" y="551" width="1" height="1" fill="#ff0a5f"/>
<rect x="709" y="551" width="1" height="2" fill="#ff0a5f"/>
<rect x="714" y="551" width="1" height="3" fill="#ff0a5f"/>
<rect x="720" y="551" width="1" height="3" fill="#ff0a5f"/>
<rect x="725" y="551" width="1" height="3" fill="#ff0a5f"/>
<rect x="731" y="551" width="1" height="2" fill="#ff0a5f"/>
<rect x="736" y="551" width="1" height="1" fill="#ff0a5f"/>
<rect x="741" y="551" width="1" height="1" fill="#ff0a5f"/>
<rect x="747" y="551" width="1" height="1" fill="#ff0a5f"/>
<rect x="752" y="551" width="1" height="1" fill="#ff0a5f"/>
<rect x="774" y="550" width="1" height="1" fill="#ff0a5f"/>
<rect x="779" y="550" width="1" height="1" fill="#ff0a5f"/>
<rect x="785" y="548" width="1" height="3" fill="#ff0a5f"/>
<rect x="790" y="547" width="1" height="4" fill="#ff0a5f"/>
<rect x="795" y="546" width="1" height="5" fill="#ff0a5f"/>
<rect x="801" y="546" width="1" height="5" fill="#ff0a5f"/>
<rect x="806" y="546" width="1" height="5" fill="#ff0a5f"/>
<rect x="812" y="546" width="1" height="5" fill="#ff0a5f"/>
<rect x="817" y="547" width="1" height="4" fill="#ff0a5f"/>
<rect x="822" y="547" width="1" height="4" fill="#ff0a5f"/>
<rect x="828" y="546" width="1" height="5" fill="#ff0a5f"/>
<rect x="833" y="546" width="1" height="5" fill="#ff0a5f"/>
<rect x="839" y="546" width="1" height="5" fill="#ff0a5f"/>
<rect x="844" y="547" width="1" height="4" fill="#ff0a5f"/>
<rect x="849" y="546" width="1" height="5" fill="#ff0a5f"/>
<rect x="855" y="547" width="1" height="4" fill="#ff0a5f"/>
<rect x="860" y="547" width="1" height="4" fill="#ff0a5f"/>
<rect x="866" y="548" width="1" height="3" fill="#ff0a5f"/>
<rect x="871" y="548" width="1" height="3" fill="#ff0a5f"/>
<rect x="876" y="549" width="1" height="2" fill="#ff0a5f"/>
<rect x="882" y="549" width="1" height="2" fill="#ff0a5f"/>
<rect x="887" y="550" width="1" height="1" fill="#ff0a5f"/>
<rect x="893" y="550" width="1" height="1" fill="#ff0a5f"/>
<rect x="898" y="550" width="1" height="1" fill="#ff0a5f"/>
<rect x="903" y="550" width="1" height="1" fill="#ff0a5f"/>
<rect x="909" y="550" width="1" height="1" fill="#ff0a5f"/>
<rect x="914" y="550" width="1" height="1" fill="#ff0a5f"/>
<rect x="925" y="551" width="1" height="1" fill="#ff0a5f"/>
<rect x="930" y="551" width="1" height="1" fill="#ff0a5f"/>
<rect x="936" y="551" width="1" height="2" fill="#ff0a5f"/>
<rect x="941" y="551" width="1" height="3" fill="#ff0a5f"/>
<rect x="947" y="551" width="1" height="3" fill="#ff0a5f"/>
<rect x="952" y="551" width="1" height="3" fill="#ff0a5f"/>
<rect x="957" y="551" width="1" height="3" fill="#ff0a5f"/>
<rect x="963" y="551" width="1" height="3" fill="#ff0a5f"/>
<rect x="968" y="551" width="1" height="3" fill="#ff0a5f"/>
<rect x="974" y="551" width="1" height="4" fill="#ff0a5f"/>
<rect x="979" y="551" width="1" height="3" fill="#ff0a5f"/>
<rect x="984" y="551" width="1" height="3" fill="#ff0a5f"/>
<rect x="990" y="551" width="1" height="2" fill="#ff0a5f"/>
<rect x="995" y="551" width="1" height="2" fill="#ff0a5f"/>
<rect x="1001" y="551" width="1" height="2" fill="#ff0a5f"/>
<rect x="1006" y="551" width="1" height="3" fill="#ff0a5f"/>
<rect x="1011" y="551" width="1" height="3" fill="#ff0a5f"/>
<rect x="1017" y="551" width="1" height="3" fill="#ff0a5f"/>
<rect x="1022" y="551" width="1" height="3" fill="#ff0a5f"/>
<rect x="1028" y="551" width="1" height="3" fill="#ff0a5f"/>
<rect x="1033" y="551" width="1" height="3" fill="#ff0a5f"/>
<rect x="1038" y="551" width="1" height="2" fill="#ff0a5f"/>
<rect x="1044" y="551" width="1" height="2" fill="#ff0a5f"/>
<polyline points="7.0,540.50 12.0,539.50 18.0,539.50 23.0,538.50 29.0,538.50 34.0,538.50 39.0,537.50 45.0,536.50 50.0,534.50 56.0,533.50 61.0,532.50 66.0,531.50 72.0,529.50 77.0,528.50 83.0,527.50 88.0,526.50 93.0,525.50 99.0,521.50 104.0,513.50 110.0,509.50 115.0,508.50 120.0,507.50 126.0,504.50 131.0,502.50 137.0,502.50 142.0,502.50 147.0,501.50 153.0,497.50 158.0,496.50 164.0,495.50 169.0,498.50 174.0,503.50 180.0,508.50 185.0,517.50 191.0,523.50 196.0,529.50 201.0,533.50 207.0,534.50 212.0,535.50 218.0,537.50 223.0,540.50 228.0,545.50 234.0,547.50 239.0,549.50 245.0,548.50 250.0,547.50 255.0,546.50 261.0,542.50 266.0,539.50 272.0,538.50 277.0,540.50 282.0,542.50 288.0,544.50 293.0,547.50 299.0,549.50 304.0,550.50 309.0,552.50 315.0,553.50 320.0,559.50 326.0,563.50 331.0,566.50 336.0,568.50 342.0,566.50 347.0,567.50 353.0,569.50 358.0,570.50 363.0,570.50 369.0,570.50 374.0,570.50 380.0,569.50 385.0,567.50 390.0,567.50 396.0,568.50 401.0,569.50 407.0,571.50 412.0,573.50 417.0,574.50 423.0,576.50 428.0,579.50 434.0,580.50 439.0,581.50 444.0,580.50 450.0,578.50 455.0,577.50 461.0,576.50 466.0,574.50 471.0,572.50 477.0,569.50 482.0,566.50 488.0,563.50 493.0,559.50 498.0,556.50 504.0,553.50 509.0,551.50 515.0,550.50 520.0,551.50 525.0,550.50 531.0,551.50 536.0,552.50 542.0,551.50 547.0,550.50 552.0,550.50 558.0,548.50 563.0,547.50 569.0,546.50 574.0,544.50 579.0,543.50 585.0,544.50 590.0,546.50 596.0,549.50 601.0,551.50 606.0,553.50 612.0,554.50 617.0,555.50 623.0,556.50 628.0,558.50 633.0,560.50 639.0,561.50 644.0,562.50 650.0,563.50 655.0,562.50 660.0,561.50 666.0,560.50 671.0,560.50 677.0,559.50 682.0,559.50 687.0,558.50 693.0,559.50 698.0,560.50 704.0,560.50 709.0,562.50 714.0,563.50 720.0,564.50 725.0,565.50 731.0,565.50 736.0,564.50 741.0,564.50 747.0,564.50 752.0,565.50 758.0,564.50 763.0,563.50 768.0,563.50 774.0,563.50 779.0,562.50 785.0,559.50 790.0,557.50 795.0,556.50 801.0,554.50 806.0,552.50 812.0,552.50 817.0,551.50 822.0,550.50 828.0,548.50 833.0,547.50 839.0,546.50 844.0,545.50 849.0,543.50 855.0,543.50 860.0,542.50 866.0,543.50 871.0,542.50 876.0,542.50 882.0,542.50 887.0,542.50 893.0,542.50 898.0,542.50 903.0,541.50 909.0,541.50 914.0,541.50 920.0,542.50 925.0,543.50 930.0,543.50 936.0,544.50 941.0,546.50 947.0,548.50 952.0,549.50 957.0,549.50 963.0,550.50 968.0,551.50 974.0,552.50 979.0,553.50 984.0,553.50 990.0,553.50 995.0,553.50 1001.0,554.50 1006.0,555.50 1011.0,556.50 1017.0,557.50 1022.0,558.50 1028.0,558.50 1033.0,559.50 1038.0,559.50 1044.0,559.50" fill="none" stroke="#2196f3" stroke-width="1.05" shape-rendering="auto" stroke-linejoin="round"/>
<polyline points="7.0,542.50 12.0,542.50 18.0,541.50 23.0,541.50 29.0,540.50 34.0,540.50 39.0,539.50 45.0,539.50 50.0,538.50 56.0,537.50 61.0,536.50 66.0,535.50 72.0,534.50 77.0,533.50 83.0,532.50 88.0,530.50 93.0,529.50 99.0,528.50 104.0,525.50 110.0,522.50 115.0,519.50 120.0,516.50 126.0,514.50 131.0,511.50 137.0,510.50 142.0,508.50 147.0,507.50 153.0,505.50 158.0,503.50 164.0,501.50 169.0,501.50 174.0,501.50 180.0,503.50 185.0,505.50 191.0,509.50 196.0,513.50 201.0,517.50 207.0,520.50 212.0,523.50 218.0,526.50 223.0,529.50 228.0,532.50 234.0,535.50 239.0,538.50 245.0,540.50 250.0,541.50 255.0,542.50 261.0,542.50 266.0,542.50 272.0,541.50 277.0,541.50 282.0,541.50 288.0,542.50 293.0,543.50 299.0,544.50 304.0,545.50 309.0,547.50 315.0,548.50 320.0,550.50 326.0,553.50 331.0,555.50 336.0,558.50 342.0,560.50 347.0,561.50 353.0,563.50 358.0,564.50 363.0,565.50 369.0,566.50 374.0,567.50 380.0,567.50 385.0,567.50 390.0,567.50 396.0,567.50 401.0,568.50 407.0,568.50 412.0,569.50 417.0,570.50 423.0,571.50 428.0,573.50 434.0,574.50 439.0,576.50 444.0,577.50 450.0,577.50 455.0,577.50 461.0,577.50 466.0,576.50 471.0,575.50 477.0,574.50 482.0,573.50 488.0,571.50 493.0,568.50 498.0,566.50 504.0,563.50 509.0,561.50 515.0,559.50 520.0,557.50 525.0,556.50 531.0,555.50 536.0,554.50 542.0,554.50 547.0,553.50 552.0,552.50 558.0,551.50 563.0,551.50 569.0,550.50 574.0,549.50 579.0,548.50 585.0,547.50 590.0,547.50 596.0,547.50 601.0,548.50 606.0,549.50 612.0,550.50 617.0,551.50 623.0,552.50 628.0,553.50 633.0,555.50 639.0,556.50 644.0,557.50 650.0,558.50 655.0,559.50 660.0,559.50 666.0,560.50 671.0,560.50 677.0,559.50 682.0,559.50 687.0,559.50 693.0,559.50 698.0,559.50 704.0,559.50 709.0,560.50 714.0,560.50 720.0,561.50 725.0,562.50 731.0,562.50 736.0,563.50 741.0,563.50 747.0,563.50 752.0,564.50 758.0,564.50 763.0,564.50 768.0,563.50 774.0,563.50 779.0,563.50 785.0,562.50 790.0,561.50 795.0,560.50 801.0,559.50 806.0,558.50 812.0,556.50 817.0,555.50 822.0,554.50 828.0,553.50 833.0,552.50 839.0,551.50 844.0,549.50 849.0,548.50 855.0,547.50 860.0,546.50 866.0,546.50 871.0,545.50 876.0,544.50 882.0,544.50 887.0,543.50 893.0,543.50 898.0,543.50 903.0,543.50 909.0,542.50 914.0,542.50 920.0,542.50 925.0,542.50 930.0,542.50 936.0,543.50 941.0,544.50 947.0,544.50 952.0,545.50 957.0,546.50 963.0,547.50 968.0,548.50 974.0,549.50 979.0,550.50 984.0,550.50 990.0,551.50 995.0,551.50 1001.0,552.50 1006.0,553.50 1011.0,553.50 1017.0,554.50 1022.0,555.50 1028.0,555.50 1033.0,556.50 1038.0,557.50 1044.0,557.50" fill="none" stroke="#ff6d00" stroke-width="1.05" shape-rendering="auto" stroke-linejoin="round"/>
<rect x="3" y="489" width="1281" height="1" fill="#555"/>
<rect x="3" y="588" width="1221" height="1" fill="#555"/>
<rect x="1223" y="0" width="1" height="588" fill="#555"/>
</svg>
<div class="pl" style="top:13px">20000.0</div>
<div class="pl" style="top:45px">19000.0</div>
<div class="pl" style="top:77px">18000.0</div>
<div class="pl" style="top:109px">17000.0</div>
<div class="pl" style="top:141px">16000.0</div>
<div class="pl" style="top:173px">15000.0</div>
<div class="pl" style="top:204px">14000.0</div>
<div class="pl" style="top:236px">13000.0</div>
<div class="pl" style="top:268px">12000.0</div>
<div class="pl" style="top:300px">11000.0</div>
<div class="pl" style="top:332px">10000.0</div>
<div class="pl" style="top:364px">9000.0</div>
<div class="pl" style="top:396px">8000.0</div>
<div class="pl" style="top:427px">7000.0</div>
<div class="pl" style="top:459px">6000.0</div>
<div class="pl" style="top:503px">2000.0000</div>
<div class="pl" style="top:546px">0.0000</div>
<div class="bx" style="top:329px;width:50px;background:#000">10000.0</div>
<div class="bx" style="top:361px;width:44px;background:#000">9000.0</div>
<div class="bx" style="top:393px;width:44px;background:#000">8000.0</div>
<div class="bx" style="top:456px;width:44px;background:#000">6000.0</div>
<div class="bx" style="top:414px;width:44px;background:#eb4d5c">7319.0</div>
<div class="dl" style="left:72.5px;">Dec</div>
<div class="dl" style="left:164.5px;">18</div>
<div class="dl" style="left:239.5px;font-weight:bold;">2018</div>
<div class="dl" style="left:315.5px;">15</div>
<div class="dl" style="left:407.5px;">Feb</div>
<div class="dl" style="left:482.5px;">15</div>
<div class="dl" style="left:558.5px;">Mar</div>
<div class="dl" style="left:633.5px;">15</div>
<div class="dl" style="left:725.5px;">Apr</div>
<div class="dl" style="left:806.5px;">16</div>
<div class="dl" style="left:887.5px;">May</div>
<div class="dl" style="left:963.5px;">15</div>
<div class="dl" style="left:1055.5px;">Jun</div>
<div class="dl" style="left:1130.5px;">15</div>
<div class="dl" style="left:1217.5px;clip-path:inset(0 2.4px 0 0)">Jul</div>
<div class="f" id="f1" style="left:46px;top:8.38px;font-size:17px;color:#444;transform:scaleX(1.0009);-webkit-text-stroke:0.28px #444;">Bitcoin / Dollar, 1D, BITFINEX</div>
<div class="f" id="f2" style="left:333.6px;top:7.80px;font-size:15.9px;color:#4a4a4a;transform:scaleX(0.8404);">O</div>
<div class="f" id="f3" style="left:345.6px;top:7.80px;font-size:15.9px;color:#eb4d5c;transform:scaleX(0.9504);">7465.3</div>
<div class="f" id="f4" style="left:401.4px;top:7.80px;font-size:15.9px;color:#4a4a4a;transform:scaleX(0.9578);">H</div>
<div class="f" id="f5" style="left:413.6px;top:7.80px;font-size:15.9px;color:#eb4d5c;transform:scaleX(0.9504);">7560.0</div>
<div class="f" id="f6" style="left:469.4px;top:7.80px;font-size:15.9px;color:#4a4a4a;transform:scaleX(1.0177);">L</div>
<div class="f" id="f7" style="left:480.1px;top:7.80px;font-size:15.9px;color:#eb4d5c;transform:scaleX(0.9504);">7270.5</div>
<div class="f" id="f8" style="left:535.2px;top:7.80px;font-size:15.9px;color:#4a4a4a;transform:scaleX(0.8882);">C</div>
<div class="f" id="f9" style="left:547.1px;top:7.80px;font-size:15.9px;color:#eb4d5c;transform:scaleX(0.9504);">7319.0</div>
<div class="f" id="f10" style="left:8.3px;top:500.03px;font-size:12px;color:#555;transform:scaleX(0.9762);">MACD (12, 26, close, 9)</div>
<div class="f" id="f11" style="left:229.4px;top:500.78px;font-size:12.3px;color:#ff0a5f;transform:scaleX(0.8940);">-80.1765</div>
<div class="f" id="f12" style="left:283.6px;top:500.78px;font-size:12.3px;color:#2196f3;transform:scaleX(0.8955);">-397.0055</div>
<div class="f" id="f13" style="left:343.3px;top:500.78px;font-size:12.3px;color:#ff6d00;transform:scaleX(0.9009);">-316.8290</div>
<div style="position:absolute;left:3px;top:607px;width:1281px;height:1px;background:#e4e9ee"></div>
<div class="f" id="f14" style="left:16.7px;top:619.32px;font-size:12.5px;color:#555;transform:scaleX(0.8821);">1D</div>
<div class="f" id="f15" style="left:47.5px;top:619.32px;font-size:12.5px;color:#555;transform:scaleX(0.8884);">5D</div>
<div class="f" id="f16" style="left:78.3px;top:619.32px;font-size:12.5px;color:#555;transform:scaleX(0.9454);">1Mo</div>
<div class="f" id="f17" style="left:118.3px;top:619.32px;font-size:12.5px;color:#555;transform:scaleX(0.9454);">3Mo</div>
<div class="f" id="f18" style="left:158px;top:619.32px;font-size:12.5px;color:#555;transform:scaleX(0.9577);">6Mo</div>
<div class="f" id="f19" style="left:197.7px;top:619.32px;font-size:12.5px;color:#555;transform:scaleX(0.8920);">YTD</div>
<div class="f" id="f20" style="left:237.3px;top:619.32px;font-size:12.5px;color:#555;transform:scaleX(0.8302);">1Y</div>
<div class="f" id="f21" style="left:267.3px;top:619.32px;font-size:12.5px;color:#555;transform:scaleX(0.8956);">5Y</div>
<div class="f" id="f22" style="left:296.7px;top:619.32px;font-size:12.5px;color:#555;transform:scaleX(1.0787);">All</div>
<div class="f" id="f23" style="left:339.3px;top:619.32px;font-size:12.5px;color:#555;transform:scaleX(1.1146);">Go to...</div>
<div class="f" id="f24" style="left:995.4px;top:619.32px;font-size:12.5px;color:#555;transform:scaleX(1.0353);">17:54:26 (UTC)</div>
<div class="f" id="f25" style="left:1114.2px;top:619.32px;font-size:12.5px;color:#555;transform:scaleX(1.1506);">ext</div>
<div class="f" id="f26" style="left:1148.6px;top:619.32px;font-size:12.5px;color:#555;transform:scaleX(1.1146);">%</div>
<div class="f" id="f27" style="left:1177.2px;top:619.32px;font-size:12.5px;color:#555;transform:scaleX(0.9948);">log</div>
<div class="f" id="f28" style="left:1212.5px;top:619.32px;font-size:12.5px;color:#2196f3;transform:scaleX(1.0475);">auto</div>
<div style="position:absolute;left:324px;top:613px;width:1px;height:20px;background:#e3e8ec"></div>
<div style="position:absolute;left:1099px;top:613px;width:1px;height:20px;background:#e3e8ec"></div>
<svg width="1284" height="641" viewBox="0 0 1284 641" style="position:absolute;left:0;top:0">
<rect x="8.5" y="8.5" width="12" height="12" rx="1.6" ry="1.6" fill="none" stroke="#5b5760" stroke-width="1"/>
<rect x="10.3" y="14" width="8.4" height="1" fill="#5b5760"/>
<defs><pattern id="dots" x="29.3" y="10.3" width="2" height="4" patternUnits="userSpaceOnUse"><circle cx="1" cy="1" r="0.55" fill="#f2f2f2"/><circle cx="0" cy="3" r="0.55" fill="#f2f2f2"/><circle cx="2" cy="3" r="0.55" fill="#f2f2f2"/></pattern></defs>
<polygon points="29.3,10.3 40.6,10.3 37.3,16 40.6,21.7 29.3,21.7" fill="#c4c4c4"/>
<polygon points="29.3,10.3 40.6,10.3 37.3,16 40.6,21.7 29.3,21.7" fill="url(#dots)"/>
<polygon points="277,14 284.4,14 280.7,17.7" fill="#c4c4c4"/>
<polygon points="138.6,503.3 145.6,503.3 142.1,506.6" fill="#c4c4c4"/>
<rect x="295" y="10" width="14" height="14" fill="rgba(198,198,198,0.72)"/><path d="M296.7,17 Q302,8.4 307.3,17 Q302,25.6 296.7,17Z" fill="#fff"/><circle cx="302" cy="17" r="2.7" fill="#d4d4d4"/><circle cx="302" cy="17" r="1.2" fill="#efefef"/>
<rect x="312" y="10" width="14" height="14" fill="rgba(198,198,198,0.72)"/><circle cx="319" cy="17" r="3.4" fill="#fff"/><polygon points="318.06,14.15 317.99,12.00 320.01,12.00 319.94,14.15" fill="#fff"/><polygon points="320.35,14.32 321.82,12.75 323.25,14.18 321.68,15.65" fill="#fff"/><polygon points="321.85,16.06 324.00,15.99 324.00,18.01 321.85,17.94" fill="#fff"/><polygon points="321.68,18.35 323.25,19.82 321.82,21.25 320.35,19.68" fill="#fff"/><polygon points="319.94,19.85 320.01,22.00 317.99,22.00 318.06,19.85" fill="#fff"/><polygon points="317.65,19.68 316.18,21.25 314.75,19.82 316.32,18.35" fill="#fff"/><polygon points="316.15,17.94 314.00,18.01 314.00,15.99 316.15,16.06" fill="#fff"/><polygon points="316.32,15.65 314.75,14.18 316.18,12.75 317.65,14.32" fill="#fff"/><circle cx="319" cy="17" r="1.6" fill="#d4d4d4"/>
<rect x="156" y="499" width="14" height="14" fill="rgba(198,198,198,0.72)"/><path d="M157.7,506 Q163,497.4 168.3,506 Q163,514.6 157.7,506Z" fill="#fff"/><circle cx="163" cy="506" r="2.7" fill="#d4d4d4"/><circle cx="163" cy="506" r="1.2" fill="#efefef"/>
<rect x="173" y="499" width="14" height="14" fill="rgba(198,198,198,0.72)"/><circle cx="180" cy="506" r="3.4" fill="#fff"/><polygon points="179.06,503.15 178.99,501.00 181.01,501.00 180.94,503.15" fill="#fff"/><polygon points="181.35,503.32 182.82,501.75 184.25,503.18 182.68,504.65" fill="#fff"/><polygon points="182.85,505.06 185.00,504.99 185.00,507.01 182.85,506.94" fill="#fff"/><polygon points="182.68,507.35 184.25,508.82 182.82,510.25 181.35,508.68" fill="#fff"/><polygon points="180.94,508.85 181.01,511.00 178.99,511.00 179.06,508.85" fill="#fff"/><polygon points="178.65,508.68 177.18,510.25 175.75,508.82 177.32,507.35" fill="#fff"/><polygon points="177.15,506.94 175.00,507.01 175.00,504.99 177.15,505.06" fill="#fff"/><polygon points="177.32,504.65 175.75,503.18 177.18,501.75 178.65,503.32" fill="#fff"/><circle cx="180" cy="506" r="1.6" fill="#d4d4d4"/>
<rect x="190" y="499" width="14" height="14" fill="rgba(198,198,198,0.72)"/><rect x="196" y="501.5" width="2" height="9" fill="#fff"/><rect x="192.5" y="505" width="9" height="2" fill="#fff"/>
<rect x="207" y="499" width="14" height="14" fill="rgba(198,198,198,0.72)"/><path d="M209.5,501.5 L218.5,510.5 M218.5,501.5 L209.5,510.5" stroke="#fff" stroke-width="1.7" fill="none"/>
<circle cx="1263" cy="624" r="3.65" fill="none" stroke="#444" stroke-width="1.2999999999999998"/><polygon points="1261.37,620.35 1261.88,617.09 1264.12,617.09 1264.63,620.35" fill="#444"/><polygon points="1264.43,620.26 1267.10,618.32 1268.68,619.90 1266.74,622.57" fill="#444"/><polygon points="1266.65,622.37 1269.91,622.88 1269.91,625.12 1266.65,625.63" fill="#444"/><polygon points="1266.74,625.43 1268.68,628.10 1267.10,629.68 1264.43,627.74" fill="#444"/><polygon points="1264.63,627.65 1264.12,630.91 1261.88,630.91 1261.37,627.65" fill="#444"/><polygon points="1261.57,627.74 1258.90,629.68 1257.32,628.10 1259.26,625.43" fill="#444"/><polygon points="1259.35,625.63 1256.09,625.12 1256.09,622.88 1259.35,622.37" fill="#444"/><polygon points="1259.26,622.57 1257.32,619.90 1258.90,618.32 1261.57,620.26" fill="#444"/>
</svg>
</body></html>
